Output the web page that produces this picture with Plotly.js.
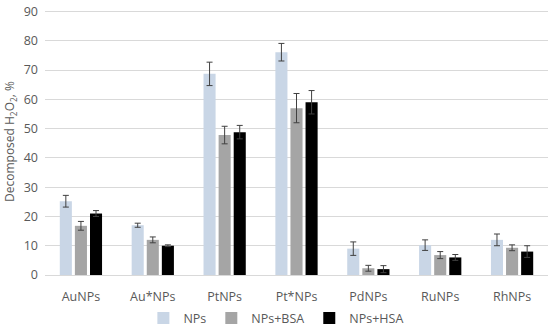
<!DOCTYPE html>
<html><head><meta charset="utf-8">
<script src="https://cdn.plot.ly/plotly-3.0.1.min.js"></script>
<style>html,body{margin:0;padding:0;background:#fff}#c{width:550px;height:327px}</style>
</head><body><div id="c"></div>
<script>
const categories = ["AuNPs","Au*NPs","PtNPs","Pt*NPs","PdNPs","RuNPs","RhNPs"];
const npsVals = [25.2, 17.0, 68.7, 76.1, 9.0, 10.2, 12.0];
const npsErr  = [2.0, 0.7, 4.0, 3.0, 2.3, 1.8, 2.0];
const bsaVals = [16.8, 12.0, 47.8, 57.0, 2.3, 6.8, 9.3];
const bsaErr  = [1.5, 1.0, 3.0, 5.0, 1.0, 1.2, 1.0];
const hsaVals = [21.0, 10.0, 48.8, 59.0, 2.0, 6.0, 8.0];
const hsaErr  = [1.0, 0.3, 2.3, 4.0, 1.2, 1.0, 2.0];
const yTicks = [0,10,20,30,40,50,60,70,80,90];
const names = ["NPs","NPs+BSA","NPs+HSA"];
const colors = ["#c9d6e6","#a5a5a5","#000000"];

function tr(i, v, e){
  return {type:"bar", name:names[i], x:categories, y:v,
    marker:{color:colors[i]},
    error_y:{type:"data", array:e, visible:true, color:"#404040", thickness:1, width:3}};
}
const data = [tr(0,npsVals,npsErr), tr(1,bsaVals,bsaErr), tr(2,hsaVals,hsaErr)];
const layout = {
  width:550, height:327,
  margin:{l:45, r:2, t:8, b:51.5, autoexpand:false},
  paper_bgcolor:"#fff", plot_bgcolor:"#fff",
  font:{family:"Open Sans, sans-serif", size:12, color:"#595959"},
  barmode:"group", bargap:0.37, bargroupgap:0.2,
  xaxis:{showline:true, linecolor:"#d9d9d9", linewidth:1, ticks:"", ticklabelstandoff:10,
    tickfont:{size:12.5, color:"#595959"}},
  yaxis:{range:[0,91.2], tickmode:"array", tickvals:yTicks, showgrid:true, gridcolor:"#d9d9d9", gridwidth:1, zeroline:false,
    ticks:"", ticklabelstandoff:6, tickfont:{size:12.5, color:"#595959"},
    title:{text:"Decomposed H<sub>2</sub>O<sub>2</sub>, %", font:{size:12, color:"#595959"}, standoff:6}},
  legend:{orientation:"h", x:0.46, xanchor:"center", y:-0.162, yanchor:"middle",
    font:{size:12.5, color:"#595959"}, itemwidth:30, tracegroupgap:0},
  showlegend:true
};
Plotly.newPlot("c", data, layout, {displayModeBar:false, staticPlot:true});
</script></body></html>
